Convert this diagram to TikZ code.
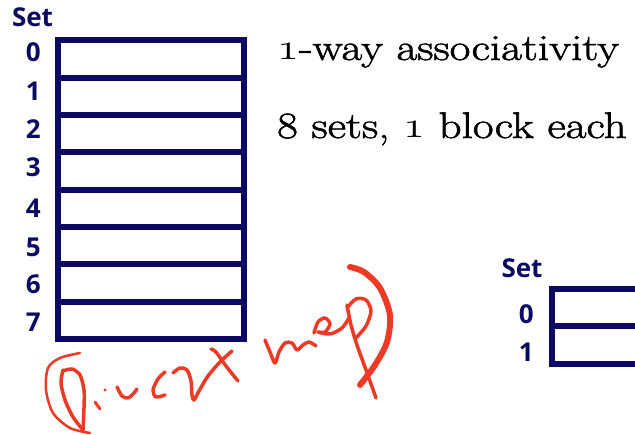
\RequirePackage{fix-cm}
\documentclass[tikz,border=0pt]{standalone}
\usepackage{fontspec}
\newfontfamily\setfont{Open Sans}
\newfontfamily\headfont{Latin Modern Roman}[FakeStretch=1.22,FakeBold=1.6]
\usetikzlibrary{positioning}
\definecolor{CacheNavy}{RGB}{10,10,100}
\definecolor{InkRed}{RGB}{236,58,38}
\tikzset{
  setrow/.style={draw=CacheNavy,line width=6pt,minimum height=37.3pt,inner sep=0pt,outer sep=0pt},
  setlab/.style={text=CacheNavy,inner sep=0pt,font=\setfont\bfseries\fontsize{26}{28}\selectfont},
  headtxt/.style={inner sep=0pt,anchor=base west,font=\headfont\fontsize{37}{40}\selectfont},
  ink/.style={InkRed,line width=3.5pt,line cap=round,line join=round}
}
\newcommand{\osone}{\scalebox{1.2}[1]{$\mathnormal{1}$}}
\begin{document}
\begin{tikzpicture}[x=1pt,y=-1pt]
\useasboundingbox (0,0) rectangle (635,435);
% 8 sets, direct mapped
\foreach \s in {0,...,7}{\node[setrow,minimum width=185.5pt] (row\s) at (150.75,{40.5+37.3*(\s+.5)}) {};}
\node[setlab] (sethead) at (32.5,17.5) {Set};
\foreach \s/\y in {0/52.5,1/91,2/129,3/167,4/208,5/247,6/284,7/322}{\node[setlab,anchor=east] (lab\s) at (41,\y) {\s};}
\node[headtxt] (assoc) at (277,60) {\osone-way associativity};
\node[headtxt] (count) at (277,138) {8 sets, \osone\ block each};
% next cache, cut at the page edge
\foreach \s in {0,1}{\node[setrow,minimum width=200pt] (two\s) at (651.7,{289+37.3*(\s+.5)}) {};}
\node[setlab] (sethead2) at (522,268) {Set};
\foreach \s/\y in {0/314,1/352}{\node[setlab,anchor=east] (labb\s) at (534,\y) {\s};}
% handwritten note
\draw[ink,line width=2.5pt] plot[smooth] coordinates {(80,353) (60,358) (48,368) (46,390) (53,413) (70,428) (90,433)};
\draw[ink] plot[smooth] coordinates {(63,370) (61,383) (65,400) (73,417) (83,430)};
\draw[ink] plot[smooth] coordinates {(63,371) (72,369) (80,375) (84,390) (84,408) (83,430)};
\draw[ink,line width=3pt] (95,402)--(100,409);
\fill[InkRed] (105,390) circle (1.6pt);
\draw[ink] plot[smooth] coordinates {(117,387) (122,396) (128,398) (134,393) (137,389)};
\draw[ink] plot[smooth] coordinates {(165,372) (158,379) (153,390) (156,397) (165,395)};
\draw[ink] plot[smooth] coordinates {(173,373) (180,368) (187,370) (191,381) (192,395) (194,400) (199,391) (208,376) (220,362) (232,351)};
\draw[ink] plot[smooth] coordinates {(211,349) (216,352) (226,366) (238,381)};
\draw[ink] plot[smooth] coordinates {(265,340) (270,352) (275,363) (279,352) (285,343) (292,343) (297,350) (303,345) (309,342) (316,346)};
\draw[ink] plot[smooth] coordinates {(314,333) (318,322) (325,318) (330,324) (325,332) (318,332) (330,334) (342,328) (349,318)};
\draw[ink] plot[smooth] coordinates {(347,305) (351,325) (357,345) (366,370) (376,398)};
\draw[ink] plot[smooth] coordinates {(347,308) (356,299) (366,300) (371,311) (366,326) (356,338)};
\draw[ink,line width=6pt] plot[smooth] coordinates {(350,267) (364,272) (380,288) (390,315) (387,342) (375,365) (360,385)};
\end{tikzpicture}
\end{document}
